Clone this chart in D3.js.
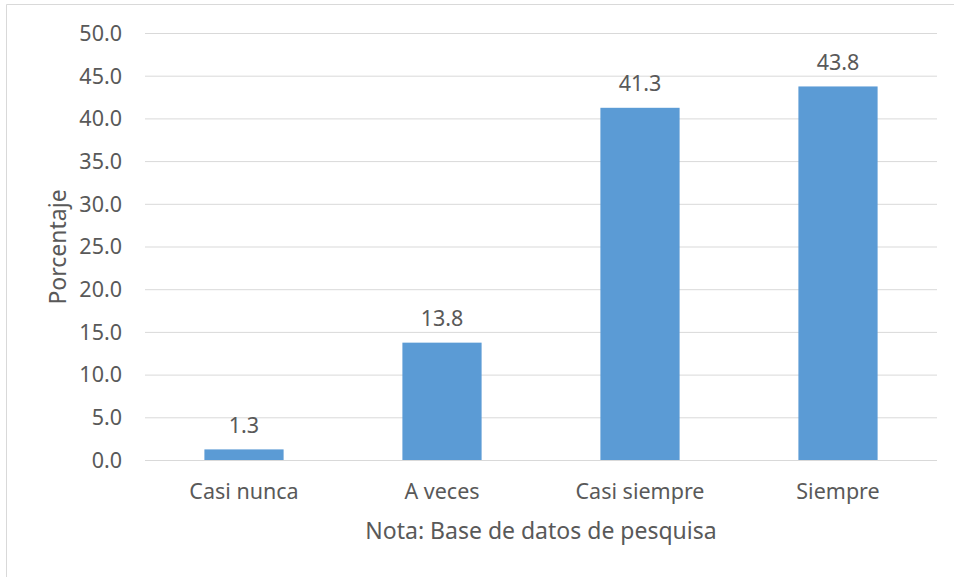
<!DOCTYPE html>
<html>
<head>
<meta charset="utf-8">
<script src="https://cdn.jsdelivr.net/npm/d3@7"></script>
<style>
  body { margin: 0; background: #fff; }
  text { font-family: "Noto Sans", "Open Sans", sans-serif; fill: #595959; }
</style>
</head>
<body>
<svg id="chart" width="954" height="577"></svg>
<script>
const categories = ["Casi nunca", "A veces", "Casi siempre", "Siempre"];
const values = [1.3, 13.8, 41.3, 43.8];
const yTicks = [0, 5, 10, 15, 20, 25, 30, 35, 40, 45, 50];
const yTitle = "Porcentaje";
const xTitle = "Nota: Base de datos de pesquisa";

const svg = d3.select("#chart");
const margin = { t: 33.5, r: 17, b: 116.5, l: 145 };
const width = 954;
const height = 577;
const innerWidth = width - margin.l - margin.r;
const innerHeight = height - margin.t - margin.b;

// chart frame (only top/left edges show in the picture)
svg.append("path")
  .attr("d", "M6.5,577 V4.5 H954")
  .attr("fill", "none")
  .attr("stroke", "#d9d9d9");

const g = svg.append("g").attr("transform", `translate(${margin.l}, ${margin.t})`);

const xScale = d3.scaleBand()
  .domain(categories)
  .range([0, innerWidth])
  .paddingInner(0.6)
  .paddingOuter(0.3);

const yScale = d3.scaleLinear().domain([0, 50]).range([innerHeight, 0]);

// grid lines
g.selectAll(".grid")
  .data(yTicks)
  .join("line")
  .attr("class", "grid")
  .attr("x1", 0).attr("x2", innerWidth)
  .attr("y1", (d) => yScale(d)).attr("y2", (d) => yScale(d))
  .attr("stroke", "#d9d9d9")
  .attr("stroke-width", 1);

// y axis labels
const yAxis = d3.axisLeft(yScale).tickValues(yTicks).tickFormat(d3.format(".1f")).tickSize(0).tickPadding(23);
g.append("g").call(yAxis)
  .attr("font-family", null)
  .call((s) => s.select(".domain").remove())
  .selectAll("text")
  .style("font-size", "21.5px");

// bars
g.selectAll(".bar")
  .data(values)
  .join("rect")
  .attr("class", "bar")
  .attr("x", (d, i) => xScale(categories[i]))
  .attr("y", (d) => yScale(d))
  .attr("width", xScale.bandwidth())
  .attr("height", (d) => innerHeight - yScale(d))
  .attr("fill", "#5b9bd5");

// value labels
g.selectAll(".val")
  .data(values)
  .join("text")
  .attr("class", "val")
  .attr("x", (d, i) => xScale(categories[i]) + xScale.bandwidth() / 2)
  .attr("y", (d) => yScale(d) - 24)
  .attr("dy", "0.35em")
  .attr("text-anchor", "middle")
  .style("font-size", "21.5px")
  .text((d) => d.toFixed(1));

// x axis line
g.append("line")
  .attr("x1", 0).attr("x2", innerWidth)
  .attr("y1", innerHeight).attr("y2", innerHeight)
  .attr("stroke", "#d9d9d9");

// category labels
g.selectAll(".cat")
  .data(categories)
  .join("text")
  .attr("class", "cat")
  .attr("x", (d) => xScale(d) + xScale.bandwidth() / 2)
  .attr("y", innerHeight + 31)
  .attr("dy", "0.35em")
  .attr("text-anchor", "middle")
  .style("font-size", "21.5px")
  .text((d) => d);

// axis titles
svg.append("text")
  .attr("x", margin.l + innerWidth / 2)
  .attr("y", 531)
  .attr("dy", "0.35em")
  .attr("text-anchor", "middle")
  .style("font-size", "23px")
  .text(xTitle);

svg.append("text")
  .attr("transform", `translate(58, ${margin.t + innerHeight / 2}) rotate(-90)`)
  .attr("dy", "0.35em")
  .attr("text-anchor", "middle")
  .style("font-size", "23px")
  .text(yTitle);
</script>
</body>
</html>
